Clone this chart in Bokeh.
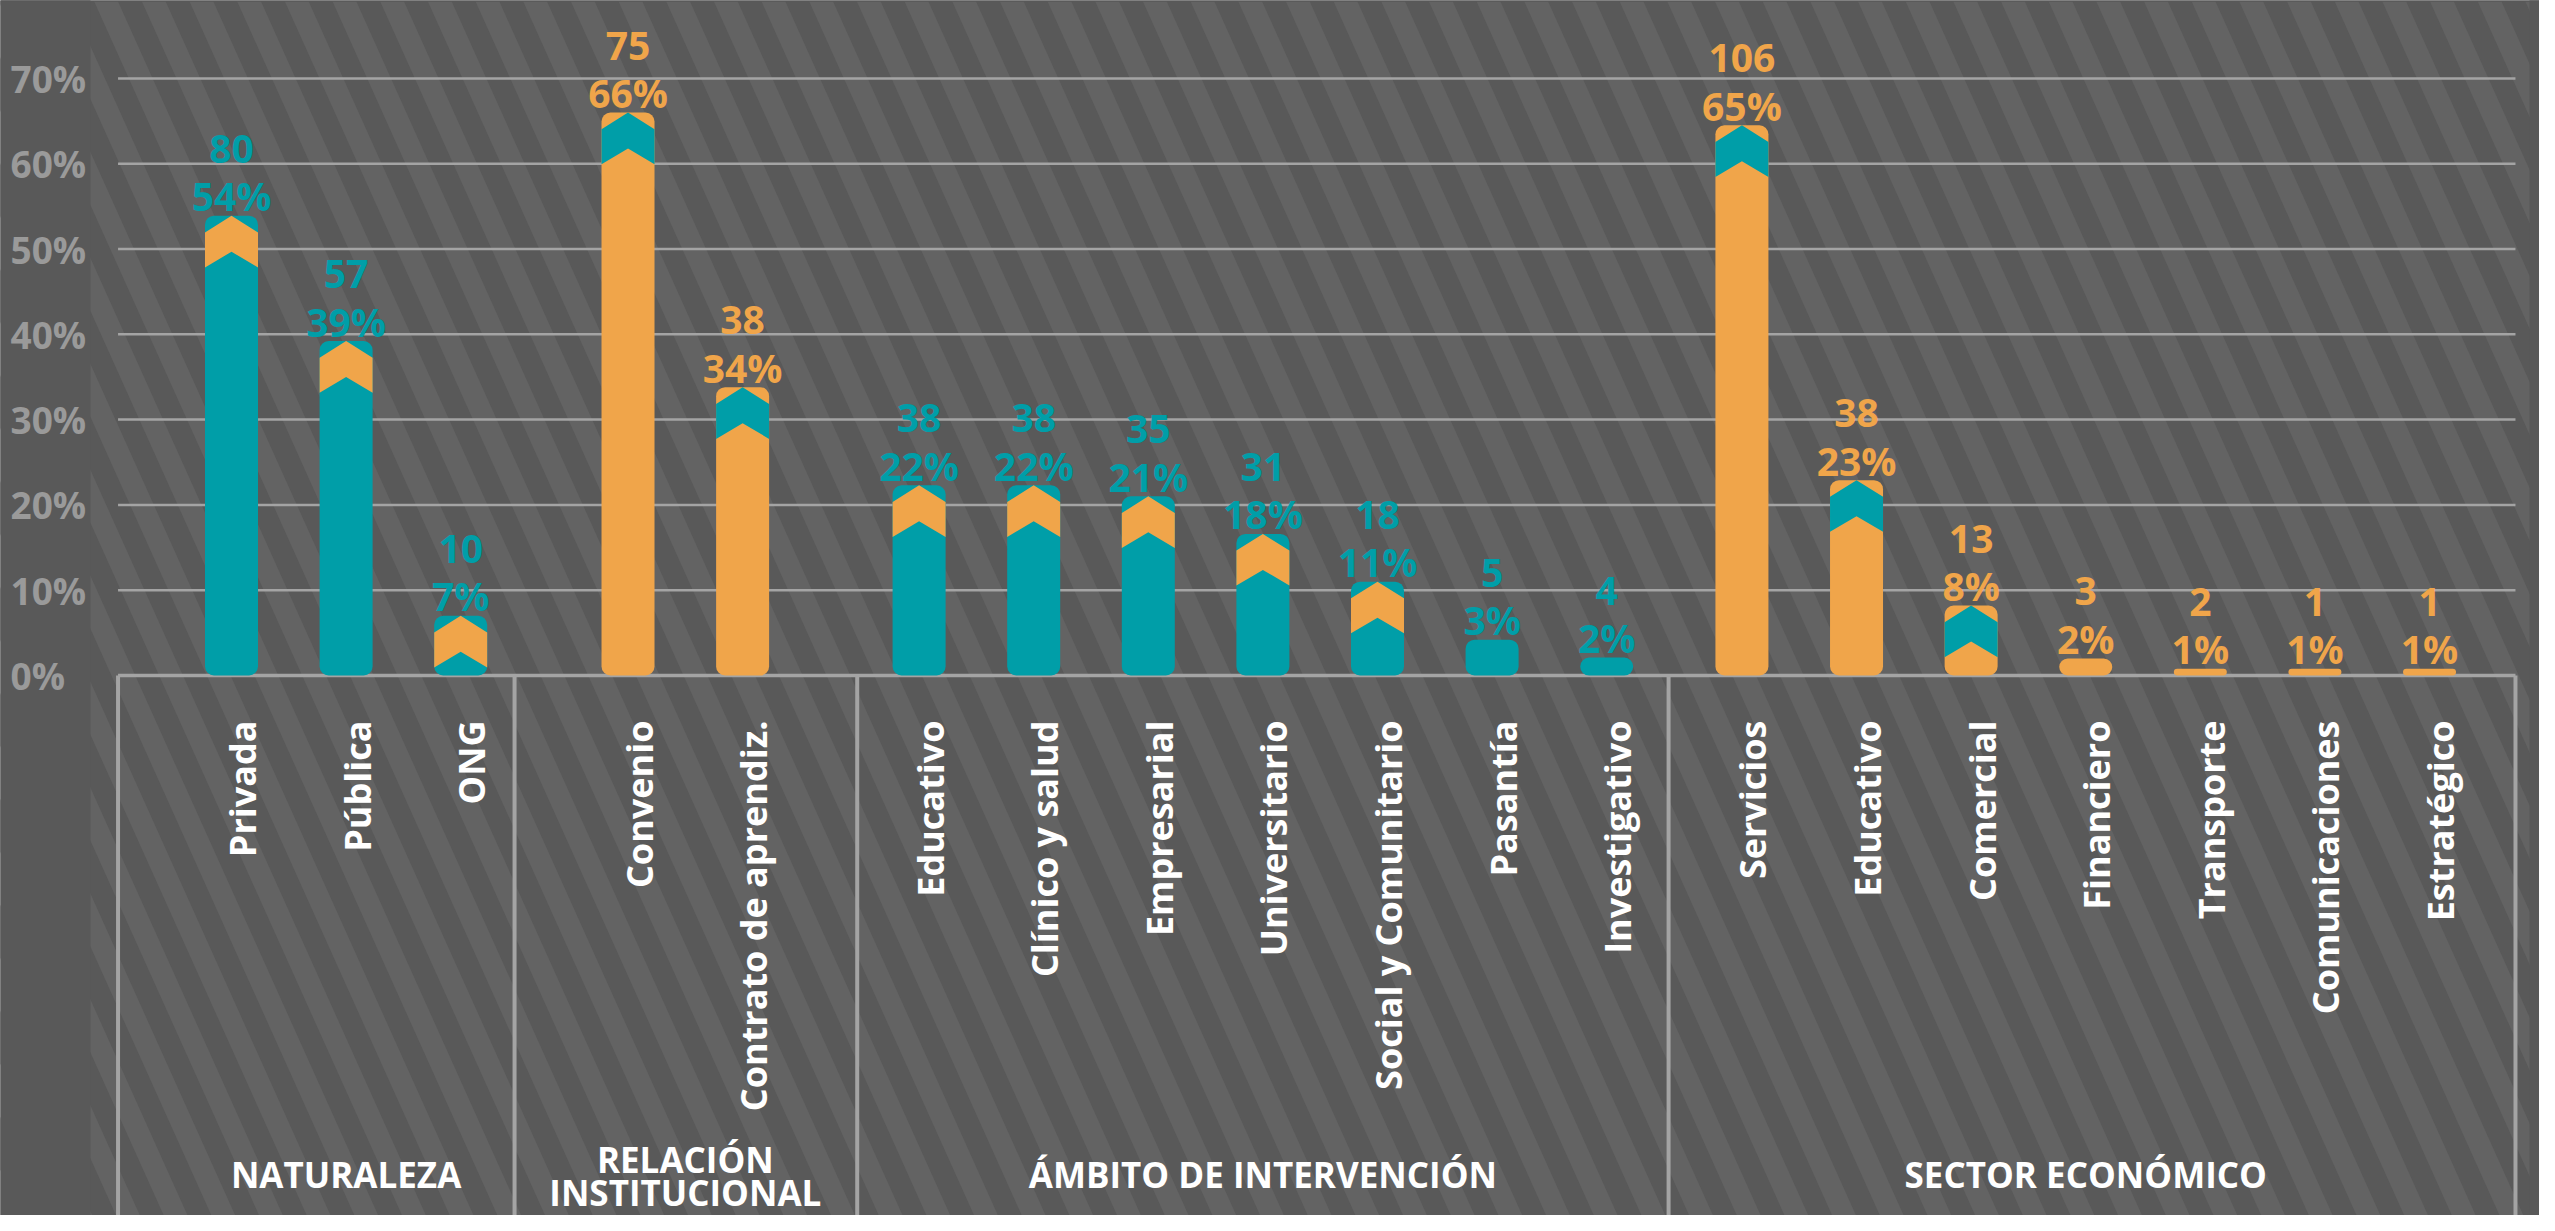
import numpy as np
from bokeh.plotting import figure
from bokeh.models import Range1d, ColumnDataSource
from bokeh.core.properties import value
from bokeh.embed import file_html
from bokeh.resources import INLINE

# ---------------- data ----------------
group_titles = ["NATURALEZA", "RELACIÓN\nINSTITUCIONAL", "ÁMBITO DE INTERVENCIÓN", "SECTOR ECONÓMICO"]

naturaleza_cats = ["Privada", "Pública", "ONG"]
naturaleza_counts = [80, 57, 10]
naturaleza_pcts = [54, 39, 7]
naturaleza_bars = [53.9, 39.2, 7.0]

relacion_cats = ["Convenio", "Contrato de aprendiz."]
relacion_counts = [75, 38]
relacion_pcts = [66, 34]
relacion_bars = [66.0, 33.8]

ambito_cats = ["Educativo", "Clínico y salud", "Empresarial", "Universitario",
               "Social y Comunitario", "Pasantía", "Investigativo"]
ambito_counts = [38, 38, 35, 31, 18, 5, 4]
ambito_pcts = [22, 22, 21, 18, 11, 3, 2]
ambito_bars = [22.3, 22.3, 21.0, 16.6, 11.0, 4.2, 2.1]

sector_cats = ["Servicios", "Educativo", "Comercial", "Financiero",
               "Transporte", "Comunicaciones", "Estratégico"]
sector_counts = [106, 38, 13, 3, 2, 1, 1]
sector_pcts = [65, 23, 8, 2, 1, 1, 1]
sector_bars = [64.5, 22.9, 8.2, 2.0, 0.8, 0.8, 0.8]

y_ticks = [0, 10, 20, 30, 40, 50, 60, 70]

# ---------------- layout / style ----------------
TEAL = "#009ea8"
ORANGE = "#f0a54a"
BG_DARK = "#595959"
BG_LIGHT = "#636363"
GRID = "#a4a4a4"
YLAB = "#9a9a9a"
FONT = value("Open Sans")

W, H = 2539, 1215
X0_PX, SLOT_PX = 239.0, 114.6      # reference pixel of slot 0, pixels per slot
Y0_PX, PCT_PX = 683.0, 8.53        # reference pixel of 0 %, pixels per 1 %


def xd(px):
    return (px - X0_PX) / SLOT_PX


def yd(px):
    return (Y0_PX - px) / PCT_PX


GROUP_START = [0.0, 3.46, 6.0, 13.18]
DIVIDERS = [-0.99, 2.47, 5.46, 12.54, 19.93]
GROUP_COLORS = [TEAL, ORANGE, TEAL, ORANGE]

groups = [
    (naturaleza_cats, naturaleza_counts, naturaleza_pcts, naturaleza_bars),
    (relacion_cats, relacion_counts, relacion_pcts, relacion_bars),
    (ambito_cats, ambito_counts, ambito_pcts, ambito_bars),
    (sector_cats, sector_counts, sector_pcts, sector_bars),
]

xs, cats, counts, pcts, tops, colors, accents, gx = [], [], [], [], [], [], [], []
for gi, (c, n, pc, b) in enumerate(groups):
    pos = [GROUP_START[gi] + i for i in range(len(c))]
    xs += pos
    cats += c
    counts += [str(v) for v in n]
    pcts += [f"{v}%" for v in pc]
    tops += b
    colors += [GROUP_COLORS[gi]] * len(c)
    accents += [GROUP_COLORS[(gi + 1) % 2]] * len(c)
    gx.append(float(np.mean(pos)))

src = ColumnDataSource(dict(x=xs, cat=cats, count=counts, pct=pcts, top=tops,
                            color=colors, accent=accents,
                            catx=[v + 11 / SLOT_PX for v in xs]))

p = figure(width=W, height=H, output_backend="svg", toolbar_location=None,
           x_range=Range1d(xd(8), xd(8 + W)), y_range=Range1d(yd(8 + H), yd(8)),
           x_axis_type=None, y_axis_type=None, min_border=0,
           background_fill_color=BG_DARK, border_fill_color=BG_DARK,
           outline_line_color=None)
p.xgrid.visible = False
p.ygrid.visible = False

# ---- diagonal stripe background ----
STRIPE_P, STRIPE_W, SLOPE = 47.67, 23.8, 0.45
top_px, bot_px = 9.0, 1240.0
sx, sy = [], []
for k in range(-14, 54):
    xl = 101.7 + k * STRIPE_P
    sh = SLOPE * (bot_px - top_px)
    sx.append([xd(xl), xd(xl + STRIPE_W), xd(xl + STRIPE_W + sh), xd(xl + sh)])
    sy.append([yd(top_px), yd(top_px), yd(bot_px), yd(bot_px)])
p.patches(sx, sy, fill_color=BG_LIGHT, line_color=None)
# plain borders around the striped panel
p.quad(left=[xd(0), xd(0), xd(2537)], right=[xd(98), xd(2560), xd(2560)],
       bottom=[yd(1240), yd(9), yd(1240)], top=[yd(0), yd(0), yd(0)],
       fill_color=BG_DARK, line_color=None)

# ---- grid lines ----
gy = y_ticks[1:]
p.segment(x0=[DIVIDERS[0]] * len(gy), x1=[DIVIDERS[-1]] * len(gy), y0=gy, y1=gy,
          line_color=GRID, line_width=2.5)
# baseline and group frame
p.segment(x0=[DIVIDERS[0]], x1=[DIVIDERS[-1]], y0=[0], y1=[0], line_color=GRID, line_width=3.5)
p.segment(x0=DIVIDERS, x1=DIVIDERS, y0=[0] * len(DIVIDERS), y1=[yd(1240)] * len(DIVIDERS),
          line_color=GRID, line_width=4)

# ---- bars ----
BAR_W = 53 / SLOT_PX
p.vbar(x="x", top="top", bottom=0, width=BAR_W, source=src,
       fill_color="color", line_color=None, border_radius=9)

# ---- chevrons at bar tops ----
cx, cy, cc = [], [], []
for x, t, a in zip(xs, tops, accents):
    if t * PCT_PX >= 55:
        l, r = x - BAR_W / 2, x + BAR_W / 2
        d1, d2, d3 = 16.7 / PCT_PX, 36.0 / PCT_PX, 51.7 / PCT_PX
        cx.append([l, x, r, r, x, l])
        cy.append([t - d1, t, t - d1, t - d3, t - d2, t - d3])
        cc.append(a)
p.patches(cx, cy, fill_color=cc, line_color=None)

# ---- value labels ----
p.text(x="x", y="top", text="pct", source=src, y_offset=-20, text_color="color",
       text_font=FONT, text_font_style="bold", text_font_size="39px",
       text_align="center", text_baseline="alphabetic")
p.text(x="x", y="top", text="count", source=src, y_offset=-67, text_color="color",
       text_font=FONT, text_font_style="bold", text_font_size="39px",
       text_align="center", text_baseline="alphabetic")

# ---- y tick labels ----
p.text(x=[xd(18)] * len(y_ticks), y=y_ticks, text=[f"{v}%" for v in y_ticks],
       text_color=YLAB, text_font=FONT, text_font_style="bold", text_font_size="37px",
       text_align="left", text_baseline="alphabetic")

# ---- category labels (rotated) ----
p.text(x="catx", y=yd(728), text="cat", source=src, angle=np.pi / 2,
       text_color="white", text_font=FONT, text_font_style="bold", text_font_size="36px",
       text_align="right", text_baseline="alphabetic")

# ---- group titles ----
tx, ty, tt = [], [], []
for g, title in zip(gx, group_titles):
    lines = title.split("\n")
    base = 1181.5 if len(lines) == 1 else 1167.0
    for j, line in enumerate(lines):
        tx.append(g)
        ty.append(yd(base + 33 * j))
        tt.append(line)
p.text(x=tx, y=ty, text=tt, text_color="white", text_font=FONT, text_font_style="bold",
       text_font_size="35px", text_align="center", text_baseline="alphabetic")

open("out.html", "w").write(file_html(p, INLINE))
